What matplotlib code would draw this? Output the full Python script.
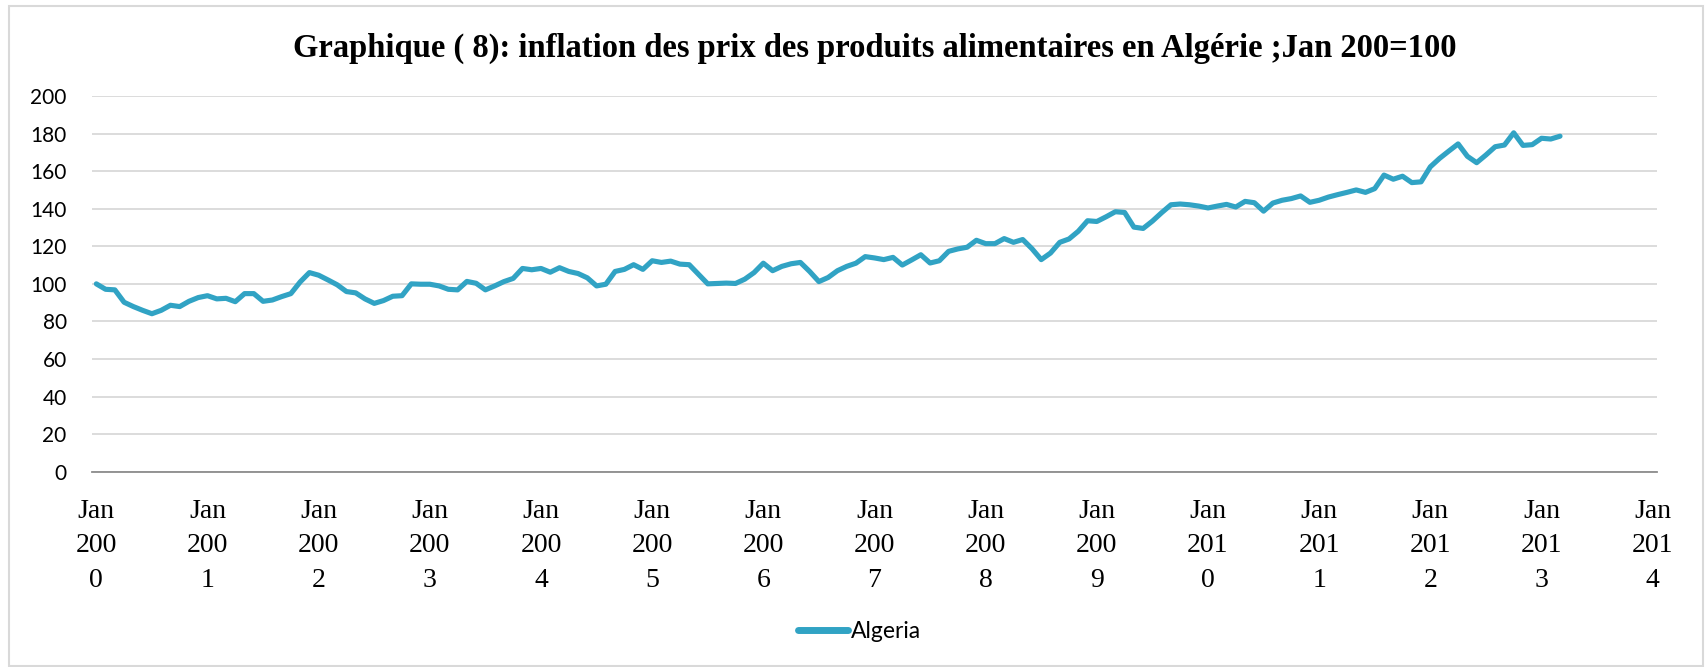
import numpy as np
import matplotlib
matplotlib.use("Agg")
import matplotlib.pyplot as plt
from matplotlib.patches import Rectangle

# indice des prix alimentaires, mensuel, Jan 2000 .. Mar 2013
algeria = [
    100.0, 97.1, 96.8, 90.2, 87.9, 85.9, 84.1, 85.9, 88.6, 87.9, 90.7, 92.7,
    93.7, 92.0, 92.3, 90.5, 94.8, 94.8, 90.7, 91.4, 93.2, 94.8, 101.0, 106.0,
    104.6, 102.1, 99.5, 95.9, 95.2, 92.0, 89.6, 91.1, 93.4, 93.7, 100.0, 99.8,
    99.8, 98.9, 97.1, 96.8, 101.3, 100.3, 96.8, 98.9, 101.2, 102.9, 108.2, 107.5,
    108.2, 106.2, 108.6, 106.6, 105.5, 103.2, 98.9, 99.8, 106.6, 107.7, 110.2, 107.7,
    112.3, 111.4, 112.1, 110.5, 110.2, 105.1, 100.0, 100.2, 100.4, 100.2, 102.5, 106.0,
    111.0, 107.0, 109.3, 110.7, 111.4, 106.6, 101.2, 103.4, 107.0, 109.3, 111.0, 114.5,
    113.8, 112.9, 114.1, 110.0, 112.7, 115.5, 111.1, 112.3, 117.3, 118.6, 119.5, 123.2,
    121.4, 121.4, 124.1, 122.1, 123.6, 118.7, 112.9, 116.4, 122.1, 123.9, 128.0, 133.6,
    133.2, 135.7, 138.4, 138.0, 130.2, 129.5, 133.4, 137.9, 142.1, 142.5, 142.1, 141.4,
    140.4, 141.4, 142.3, 140.9, 143.9, 143.2, 138.7, 143.0, 144.5, 145.4, 146.8, 143.4,
    144.5, 146.2, 147.5, 148.7, 150.0, 148.7, 150.7, 157.9, 155.7, 157.3, 153.9, 154.3,
    162.3, 166.8, 170.7, 174.5, 167.9, 164.5, 168.6, 173.0, 173.9, 180.4, 173.7, 174.1,
    177.5, 177.1, 178.6,
]
months = np.arange(len(algeria))

years = list(range(2000, 2015))
tick_pos = [(y - 2000) * 12 for y in years]
tick_labels = ["Jan\n" + str(y)[:3] + "\n" + str(y)[3] for y in years]

title = "Graphique ( 8): inflation des prix des produits alimentaires en Algérie ;Jan 200=100"

fig = plt.figure(figsize=(17.05, 6.67), dpi=100)
ax = fig.add_axes([0.05378, 0.2928, 0.91824, 0.56327])

ax.plot(months, algeria, color="#31a3c4", linewidth=3.7, label="Algeria",
        solid_capstyle="round", solid_joinstyle="round", zorder=3)

ax.set_xlim(-0.5, 168.5)
ax.set_ylim(0, 200)
ax.set_yticks(range(0, 201, 20))
ax.set_xticks(tick_pos)
ax.set_xticklabels(tick_labels, family="Liberation Serif", fontsize=20,
                   linespacing=1.5)
for lab in ax.get_yticklabels():
    lab.set_family("Lato")
    lab.set_fontsize(15)
ax.tick_params(axis="both", length=0)
ax.tick_params(axis="y", pad=18)
ax.tick_params(axis="x", pad=19.5)

ax.grid(axis="y", color="#d9d9d9", linewidth=1.3)
ax.set_axisbelow(True)
for s in ["top", "right", "left"]:
    ax.spines[s].set_visible(False)
ax.spines["bottom"].set_color("#8c8c8c")
ax.spines["bottom"].set_linewidth(1.3)

fig.text(0.513, 0.928, title, ha="center", va="center",
         family="Liberation Serif", fontweight="bold", fontsize=23.5)

leg = fig.legend(loc="center", bbox_to_anchor=(0.504, 0.0525), frameon=False,
                 prop={"family": "Lato", "size": 16.5}, handlelength=2.2,
                 handletextpad=0.12)
for h in leg.get_lines():
    h.set_linewidth(5)

fig.patches.append(Rectangle((0.0053, 0.002), 0.9935, 0.989, transform=fig.transFigure,
                             fill=False, edgecolor="#d9d9d9", linewidth=1.5))

fig.savefig("out.png", dpi=100)
